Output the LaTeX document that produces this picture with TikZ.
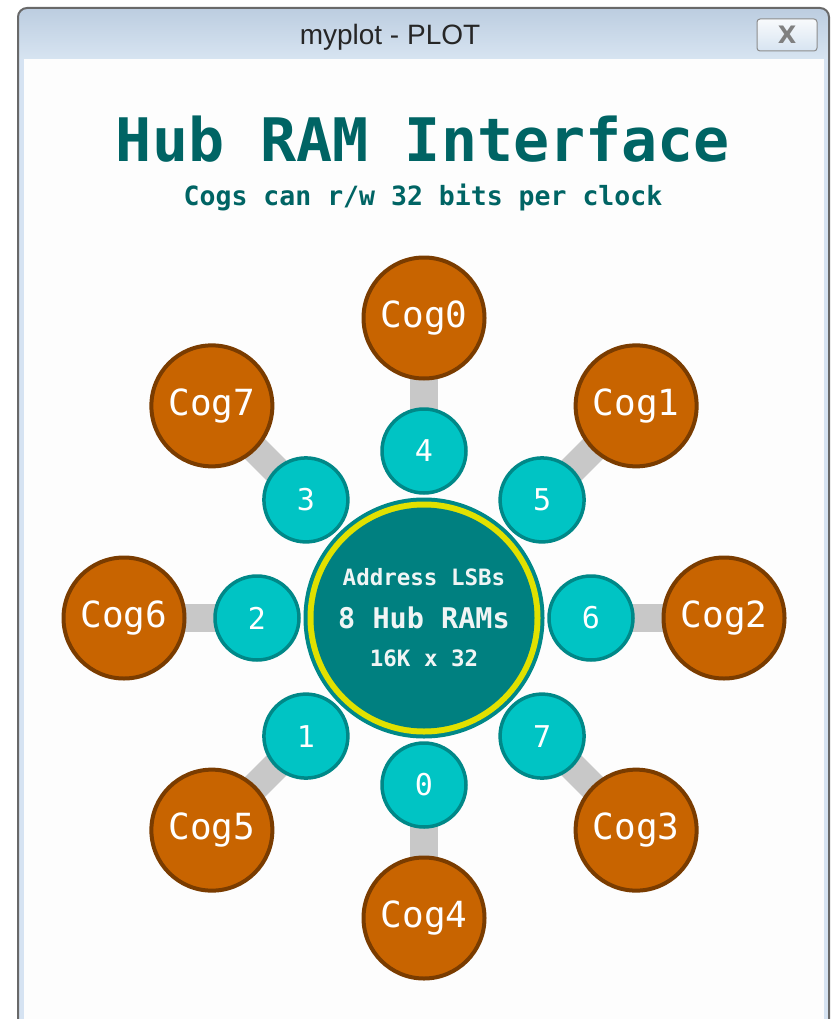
\documentclass[tikz,border=0pt]{standalone}
\usepackage{fontspec}
\usetikzlibrary{calc}
\newfontfamily\mono{DejaVu Sans Mono}
\newfontfamily\uifont{Liberation Sans}
\newfontfamily\xfont{DejaVu Sans}
\definecolor{cogfill}{RGB}{200,100,0}
\definecolor{cogline}{RGB}{122,60,0}
\definecolor{pfill}{RGB}{0,196,196}
\definecolor{pline}{RGB}{0,136,136}
\definecolor{hubfill}{RGB}{0,128,128}
\definecolor{hubring}{RGB}{225,225,0}
\definecolor{titlecol}{RGB}{0,100,100}
\definecolor{barcol}{RGB}{200,200,200}
\definecolor{frameline}{RGB}{105,105,105}
\definecolor{framefill}{RGB}{214,227,242}
\definecolor{bartop}{RGB}{188,205,224}
\definecolor{barbot}{RGB}{215,228,241}
\definecolor{content}{RGB}{253,253,253}
\definecolor{hubtext}{RGB}{240,245,245}
\begin{document}
\begin{tikzpicture}[x=1pt,y=1pt,
  cog/.style={circle, fill=cogfill, draw=cogline, line width=4pt, minimum size=121pt, inner sep=0pt, text=white, font=\mono\fontsize{36}{36}\selectfont},
  port/.style={circle, fill=pfill, draw=pline, line width=3.5pt, minimum size=84pt, inner sep=0pt, text=white, font=\mono\fontsize{30}{30}\selectfont},
  link/.style={draw=barcol, line width=28pt},
  hubtxt/.style={text=hubtext, anchor=base, inner sep=0pt},
]
\useasboundingbox (0,-1019) rectangle (836,0);
\fill[white] (0,-1019) rectangle (836,0);
% window frame
\begin{scope}
  \clip[rounded corners=9pt] (18,-1040) rectangle (829,-8);
  \fill[framefill] (18,-1040) rectangle (829,-8);
  \shade[top color=bartop, bottom color=barbot] (18,-59) rectangle (829,-8);
  \fill[content] (24,-59) rectangle (824,-1040);
\end{scope}
\draw[frameline, line width=2pt, rounded corners=9pt] (18,-1040) -- (18,-8) -- (829,-8) -- (829,-1040);
\node[font=\uifont\fontsize{28}{28}\selectfont, text=black!85] (wtitle) at (390,-37) {myplot - PLOT};
\node[draw=black!45, line width=1pt, rounded corners=3pt, minimum width=60pt, minimum height=32pt,
      top color=white!90!bartop, bottom color=barbot, inner sep=0pt,
      font=\xfont\bfseries\fontsize{24}{24}\selectfont, text=black!50] (closebtn) at (787,-35) {X};
% titles
\node[text=titlecol, font=\mono\bfseries\fontsize{60}{60}\selectfont, anchor=base, inner sep=0pt] (title) at (423,-162) {Hub RAM Interface};
\node[text=titlecol, font=\mono\bfseries\fontsize{26.5}{26.5}\selectfont, anchor=base, inner sep=0pt] (subtitle) at (423,-205) {Cogs can r/w 32 bits per clock};
% hub and spokes
\coordinate (c) at (424,-618);
\foreach \cog/\p/\ang in {0/4/90, 1/5/45, 2/6/0, 3/7/-45, 4/0/-90, 5/1/-135, 6/2/180, 7/3/135} {
  \coordinate (cc\cog) at ($(c)+(\ang:300)$);
  \coordinate (pc\p) at ($(c)+(\ang:167)$);
}
\foreach \cog/\p in {0/4, 1/5, 2/6, 3/7, 4/0, 5/1, 6/2, 7/3} {
  \draw[link] (cc\cog) -- (pc\p);
}
\foreach \cog/\p in {0/4, 1/5, 2/6, 3/7, 4/0, 5/1, 6/2, 7/3} {
  \node[cog] (cog\cog) at (cc\cog) {Cog\cog};
  \node[port] (p\p) at (pc\p) {\p};
}
\node[circle, fill=pline, minimum size=241pt, inner sep=0pt] (hubo) at (c) {};
\node[circle, fill=hubring, minimum size=233pt, inner sep=0pt] (hubr) at (c) {};
\node[circle, fill=hubfill, minimum size=221pt, inner sep=0pt] (hub) at (c) {};
\node[hubtxt, font=\mono\bfseries\fontsize{22.5}{22.5}\selectfont] (t1) at (424,-585) {Address LSBs};
\node[hubtxt, font=\mono\bfseries\fontsize{28.5}{28.5}\selectfont] (t2) at (424,-628) {8 Hub RAMs};
\node[hubtxt, font=\mono\bfseries\fontsize{22.5}{22.5}\selectfont] (t3) at (424,-666) {16K x 32};
\end{tikzpicture}
\end{document}
